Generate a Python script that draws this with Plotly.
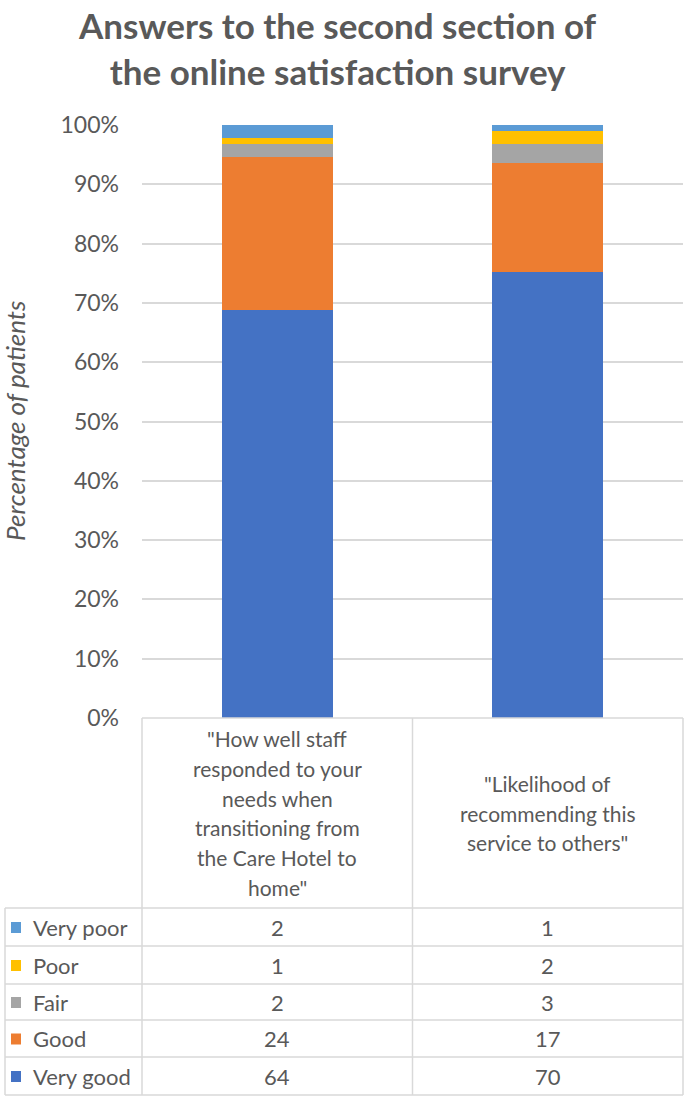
import plotly.graph_objects as go

# ---- data ----
categories = [
    '"How well staff<br>responded to your<br>needs when<br>transitioning from<br>the Care Hotel to<br>home"',
    '"Likelihood of<br>recommending this<br>service to others"',
]
series_names = ["Very good", "Good", "Fair", "Poor", "Very poor"]
very_good = [64, 70]
good = [24, 17]
fair = [2, 3]
poor = [1, 2]
very_poor = [2, 1]
series_values = [very_good, good, fair, poor, very_poor]
series_colors = ["#4472C4", "#ED7D31", "#A5A5A5", "#FFC000", "#5B9BD5"]
y_ticks = [0, 10, 20, 30, 40, 50, 60, 70, 80, 90, 100]
y_tick_labels = [f"{v}%" for v in y_ticks]

# ---- layout geometry (pixels) ----
W, H = 689, 1102
L, R, T, B = 142, 683, 125, 718
TXT = "#595959"
GRID = "#D9D9D9"
FONT = "Lato, Open Sans, sans-serif"


def px(x):
    return (x - L) / (R - L)


def py(y):
    return (B - y) / (B - T)


fig = go.Figure()
xpos = [0, 1]
for name, vals, col in zip(series_names, series_values, series_colors):
    fig.add_trace(go.Bar(x=xpos, y=vals, name=name, marker_color=col,
                         marker_line_width=0, showlegend=False))

shapes = []
annotations = []

# table grid
col_x = [L, (L + R) / 2, R]
row_y = [908, 946, 984, 1020, 1057, 1095]
for x in col_x:
    shapes.append(dict(type="line", xref="paper", yref="paper",
                       x0=px(x), x1=px(x), y0=py(B), y1=py(row_y[-1]),
                       line=dict(color=GRID, width=1.5)))
shapes.append(dict(type="line", xref="paper", yref="paper",
                   x0=px(5), x1=px(5), y0=py(row_y[0]), y1=py(row_y[-1]),
                   line=dict(color=GRID, width=1.5)))
for y in row_y:
    shapes.append(dict(type="line", xref="paper", yref="paper",
                       x0=px(5), x1=px(R), y0=py(y), y1=py(y),
                       line=dict(color=GRID, width=1.5)))
shapes.append(dict(type="line", xref="paper", yref="paper",
                   x0=px(L), x1=px(R), y0=py(B), y1=py(B),
                   line=dict(color=GRID, width=1.5)))

# header category labels (line by line)
centers = [(col_x[0] + col_x[1]) / 2, (col_x[1] + col_x[2]) / 2]
for cat, cx in zip(categories, centers):
    lines = cat.split("<br>")
    n = len(lines)
    mid = 813
    for i, ln in enumerate(lines):
        yy = mid + (i - (n - 1) / 2) * 29.7
        annotations.append(dict(text=ln, xref="paper", yref="paper",
                                x=px(cx), y=py(yy), showarrow=False,
                                xanchor="center", yanchor="middle",
                                font=dict(size=21, color=TXT, family=FONT)))

# table rows (top row = Very poor)
order = list(range(len(series_names)))[::-1]
for r, si in enumerate(order):
    ymid = (row_y[r] + row_y[r + 1]) / 2
    shapes.append(dict(type="rect", xref="paper", yref="paper",
                       x0=px(11), x1=px(21), y0=py(ymid - 5), y1=py(ymid + 6),
                       fillcolor=series_colors[si], line=dict(width=0)))
    annotations.append(dict(text=series_names[si], xref="paper", yref="paper",
                            x=px(31), y=py(ymid), showarrow=False,
                            xanchor="left", yanchor="middle",
                            font=dict(size=22, color=TXT, family=FONT)))
    for c, cx in enumerate(centers):
        annotations.append(dict(text=str(series_values[si][c]), xref="paper",
                                yref="paper", x=px(cx), y=py(ymid),
                                showarrow=False, xanchor="center",
                                yanchor="middle",
                                font=dict(size=22, color=TXT, family=FONT)))

# y axis title
annotations.append(dict(text="<i>Percentage of patients</i>", xref="paper",
                        yref="paper", x=px(15), y=py(421), textangle=-90,
                        showarrow=False, xanchor="center", yanchor="middle",
                        font=dict(size=26, color=TXT, family=FONT)))

fig.update_layout(
    width=W, height=H,
    margin=dict(l=L, r=W - R, t=T, b=H - B, pad=0),
    paper_bgcolor="white", plot_bgcolor="white",
    barmode="stack", barnorm="percent", bargap=0.59,
    title=dict(text="<b>Answers to the second section of<br>the online satisfaction survey</b>",
               x=0.49, xanchor="center", y=1 - 39 / H, yanchor="middle",
               font=dict(size=35, color=TXT, family=FONT)),
    xaxis=dict(range=[-0.5, 1.5], showticklabels=False, showgrid=False,
               zeroline=False, showline=False, fixedrange=True),
    yaxis=dict(range=[0, 100], tickvals=y_ticks, ticktext=y_tick_labels,
               showgrid=True, gridcolor=GRID, gridwidth=1.5, zeroline=False,
               showline=False, ticks="", ticklabelstandoff=22,
               tickfont=dict(size=23, color=TXT, family=FONT)),
    shapes=shapes,
    annotations=annotations,
    showlegend=False,
)

fig.write_html("out.html", config={"displayModeBar": False},
               post_script="document.body.style.margin='0';document.body.style.overflow='hidden';")
